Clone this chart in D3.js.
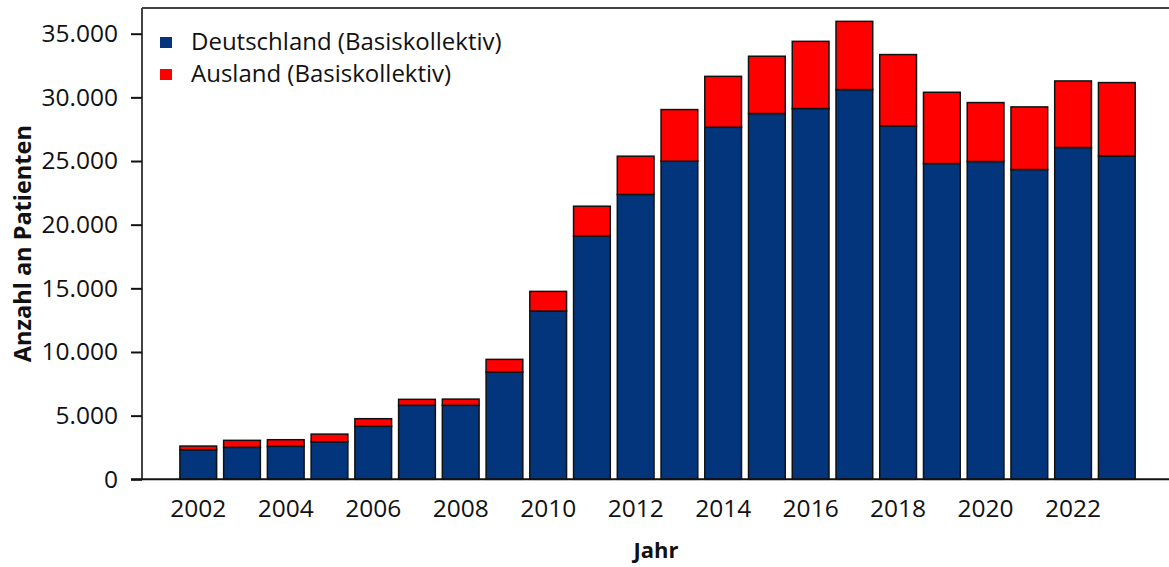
<!DOCTYPE html>
<html>
<head>
<meta charset="utf-8">
<script src="https://cdn.jsdelivr.net/npm/d3@7"></script>
<style>
  html, body { margin: 0; padding: 0; background: #fff; }
  svg { display: block; font-family: "Open Sans", "Noto Sans", sans-serif; }
</style>
</head>
<body>
<svg id="chart" width="1169" height="567"></svg>
<script>
// Patient counts per year, stacked: Germany + abroad
const years = [2002, 2003, 2004, 2005, 2006, 2007, 2008, 2009, 2010, 2011, 2012,
               2013, 2014, 2015, 2016, 2017, 2018, 2019, 2020, 2021, 2022, 2023];
const deutschland = [2320, 2510, 2590, 2950, 4160, 5810, 5810, 8420, 13210, 19100, 22370,
                     24980, 27650, 28730, 29120, 30610, 27760, 24800, 24960, 24330, 26060, 25400];
const ausland = [290, 550, 520, 600, 600, 470, 490, 1000, 1550, 2350, 3010,
                 4060, 4000, 4500, 5280, 5360, 5600, 5600, 4630, 4920, 5230, 5760];
const seriesNames = ["Deutschland (Basiskollektiv)", "Ausland (Basiskollektiv)"];
const seriesColors = ["#02357B", "#FF0000"];
const yTicks = [0, 5000, 10000, 15000, 20000, 25000, 30000, 35000];
const xTickYears = [2002, 2004, 2006, 2008, 2010, 2012, 2014, 2016, 2018, 2020, 2022];

const svg = d3.select("#chart");
const W = 1169, H = 567;
const plot = { left: 142, top: 8, right: W, bottom: 479.3 };

const rows = years.map((yr, i) => ({ year: yr, de: deutschland[i], aus: ausland[i] }));
const stack = d3.stack().keys(["de", "aus"])(rows);

const x = d3.scaleBand()
  .domain(years)
  .range([176.4, 176.4 + 22 * 43.74])
  .paddingInner(0.16)
  .paddingOuter(0.08);

const y = d3.scaleLinear()
  .domain([0, 35000])
  .range([plot.bottom, 33.7]);

const de = d3.formatLocale({ decimal: ",", thousands: ".", grouping: [3], currency: ["", " €"] });
const fmt = de.format(",d");

// bars
const g = svg.append("g");
stack.forEach((layer, li) => {
  g.append("g")
    .selectAll("rect")
    .data(layer)
    .join("rect")
    .attr("x", d => x(d.data.year))
    .attr("width", x.bandwidth())
    .attr("y", d => y(d[1]))
    .attr("height", d => y(d[0]) - y(d[1]))
    .attr("fill", seriesColors[li])
    .attr("stroke", "#111")
    .attr("stroke-width", 1.5);
});

// frame: left and top lines
svg.append("line")
  .attr("x1", plot.left).attr("x2", plot.left)
  .attr("y1", plot.top).attr("y2", plot.bottom)
  .attr("stroke", "#444").attr("stroke-width", 2);
svg.append("line")
  .attr("x1", plot.left).attr("x2", W)
  .attr("y1", plot.top).attr("y2", plot.top)
  .attr("stroke", "#444").attr("stroke-width", 2);

// baseline
svg.append("line")
  .attr("x1", 131).attr("x2", W)
  .attr("y1", y(0)).attr("y2", y(0))
  .attr("stroke", "#111").attr("stroke-width", 2);

// y axis
const yAxis = svg.append("g")
  .attr("transform", `translate(${plot.left},0)`)
  .call(d3.axisLeft(y).tickValues(yTicks).tickFormat(fmt).tickSize(11).tickPadding(13));
yAxis.select(".domain").remove();
yAxis.selectAll(".tick line").attr("stroke", "#111").attr("stroke-width", 2);
yAxis.selectAll(".tick text")
  .attr("font-size", 24.5)
  .attr("fill", "#111")
  .attr("font-family", "Open Sans, Noto Sans, sans-serif");

// x axis labels
const xAxis = svg.append("g")
  .attr("transform", `translate(0,${plot.bottom})`)
  .call(d3.axisBottom(x).tickValues(xTickYears).tickSize(0).tickPadding(20));
xAxis.select(".domain").remove();
xAxis.selectAll(".tick text")
  .attr("font-size", 24.5)
  .attr("fill", "#111")
  .attr("font-family", "Open Sans, Noto Sans, sans-serif");

// axis titles
svg.append("text")
  .attr("transform", `translate(31,${(plot.top + plot.bottom) / 2}) rotate(-90)`)
  .attr("text-anchor", "middle")
  .attr("font-size", 23.5)
  .attr("font-weight", "bold")
  .attr("fill", "#111")
  .text("Anzahl an Patienten");

svg.append("text")
  .attr("x", 656)
  .attr("y", 558)
  .attr("text-anchor", "middle")
  .attr("font-size", 22)
  .attr("font-weight", "bold")
  .attr("fill", "#111")
  .text("Jahr");

// legend
const legend = svg.append("g");
seriesNames.forEach((name, i) => {
  const yy = 50 + i * 32;
  legend.append("rect")
    .attr("x", 160).attr("y", yy - 13)
    .attr("width", 12).attr("height", 11)
    .attr("fill", seriesColors[i]);
  legend.append("text")
    .attr("x", 191).attr("y", yy)
    .attr("font-size", 24)
    .attr("fill", "#111")
    .text(name);
});
</script>
</body>
</html>
